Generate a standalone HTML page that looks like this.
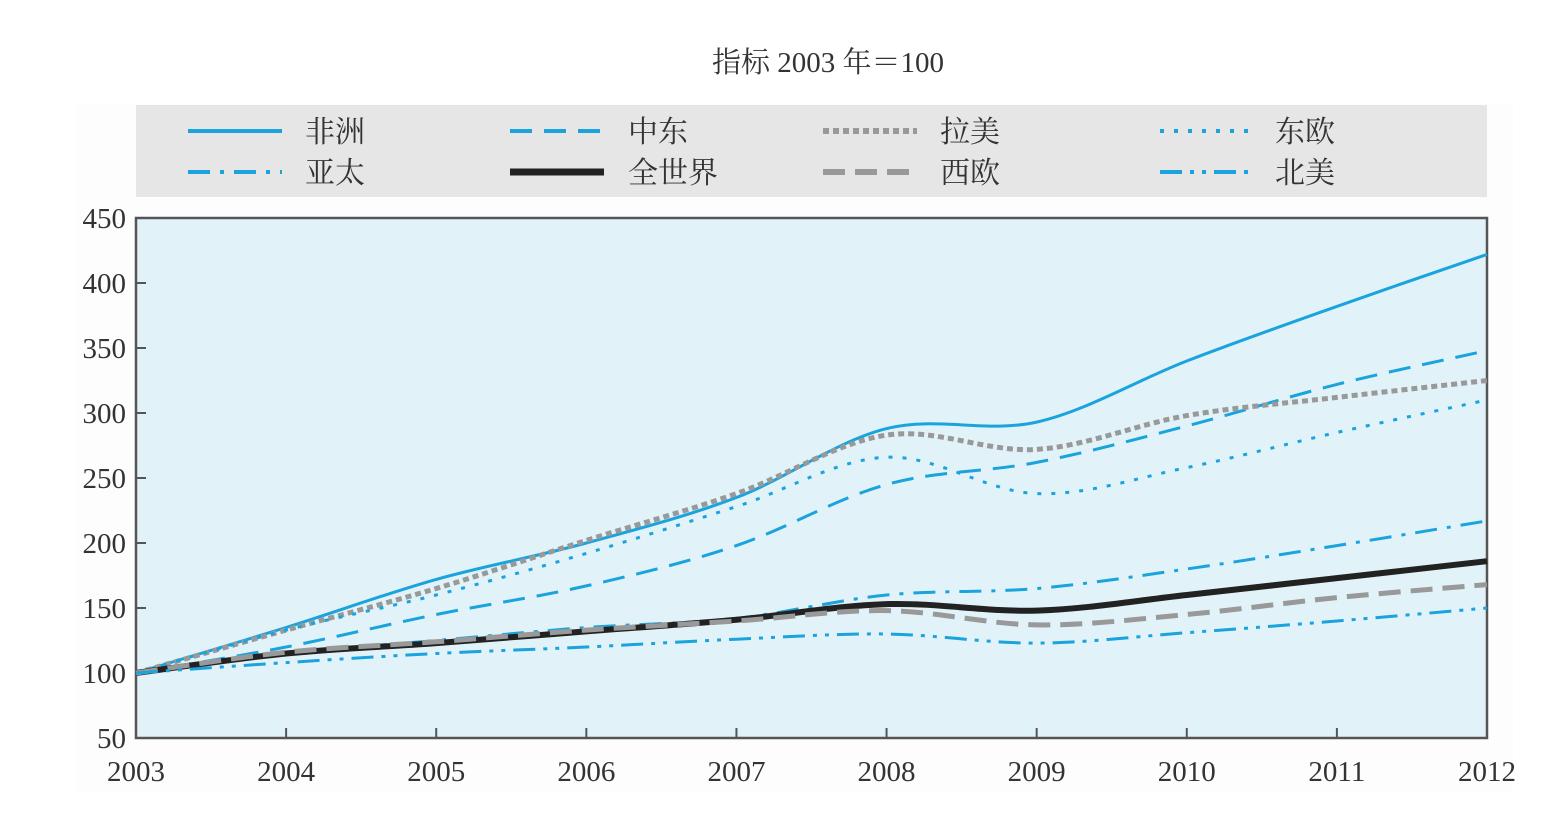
<!DOCTYPE html>
<html><head><meta charset="utf-8">
<style>
html,body{margin:0;padding:0;background:#fff;}
svg{display:block;}
text{font-family:"Liberation Serif","Noto Serif CJK SC",serif;fill:#333;}
</style></head><body>
<svg id="s" width="1563" height="819" xmlns="http://www.w3.org/2000/svg">
<rect x="76" y="103" width="1437" height="688" fill="#fdfdfd"/>
<text x="828" y="72" font-size="29" text-anchor="middle">指标 2003 年＝100</text>
<rect x="136" y="105" width="1351" height="92" fill="#e6e6e6"/>
<rect x="136" y="218" width="1351" height="520" fill="#e1f3f9" stroke="#555" stroke-width="2.5"/>
<g id="ticks"></g>
<g id="lines" fill="none"></g>
<g font-size="30">
<text x="305" y="142">非洲</text><text x="305" y="183">亚太</text>
<text x="628" y="142">中东</text><text x="628" y="183">全世界</text>
<text x="940" y="142">拉美</text><text x="940" y="183">西欧</text>
<text x="1275" y="142">东欧</text><text x="1275" y="183">北美</text>
</g>
</svg>
<script>
const B="#1aa3dc",G="#999";
const X=y=>136+(y-2003)*150.111, Y=v=>738-(v-50)*1.3;
const ns="http://www.w3.org/2000/svg";
function el(p,t,a){const e=document.createElementNS(ns,t);for(const k in a)e.setAttribute(k,a[k]);p.appendChild(e);return e;}
const tk=document.getElementById('ticks');
for(let v=50;v<=450;v+=50){el(tk,'line',{x1:136,x2:146,y1:Y(v),y2:Y(v),stroke:'#555','stroke-width':2});
 const t=el(tk,'text',{x:126,y:Y(v)+10,'font-size':29,'text-anchor':'end'});t.textContent=v;}
for(let y=2003;y<=2012;y++){el(tk,'line',{x1:X(y),x2:X(y),y1:738,y2:728,stroke:'#555','stroke-width':2});
 const t=el(tk,'text',{x:X(y),y:781,'font-size':29,'text-anchor':'middle'});t.textContent=y;}
const S=[
 [[100,135,172,200,235,288,293,340,382,422],B,3,'',[188,131]],
 [[100,120,145,167,198,245,262,290,322,348],B,3,'22 12',[510,131]],
 [[100,133,165,202,238,283,272,298,312,325],G,5,'6 4',[823,131]],
 [[100,133,160,192,228,266,238,258,285,310],B,3,'4 10',[1160,131]],
 [[100,115,125,135,142,160,165,180,198,217],B,3,'22 10 4 10',[188,172]],
 [[100,115,123,132,141,153,148,160,173,186],'#222',6,'',[510,172]],
 [[100,116,124,133,140,148,137,145,158,168],G,5,'22 10',[823,172]],
 [[100,108,115,120,126,130,123,131,140,150],B,3,'22 8 4 8 4 8',[1160,172]]
];
const L=document.getElementById('lines');
S.forEach(([d,c,w,da,lg])=>{
 const P=d.map((v,i)=>[X(2003+i),Y(v)]);
 let p=`M${P[0][0]},${P[0][1]}`;
 for(let i=0;i<P.length-1;i++){const p0=P[Math.max(i-1,0)],p1=P[i],p2=P[i+1],p3=P[Math.min(i+2,P.length-1)];
  p+=` C${p1[0]+(p2[0]-p0[0])/6},${p1[1]+(p2[1]-p0[1])/6} ${p2[0]-(p3[0]-p1[0])/6},${p2[1]-(p3[1]-p1[1])/6} ${p2[0]},${p2[1]}`;}
 const a={d:p,stroke:c,'stroke-width':w};if(da)a['stroke-dasharray']=da;el(L,'path',a);
 const b={x1:lg[0],x2:lg[0]+94,y1:lg[1],y2:lg[1],stroke:c,'stroke-width':w+1};if(da)b['stroke-dasharray']=da;el(L,'line',b);
});
</script>
</body></html>
